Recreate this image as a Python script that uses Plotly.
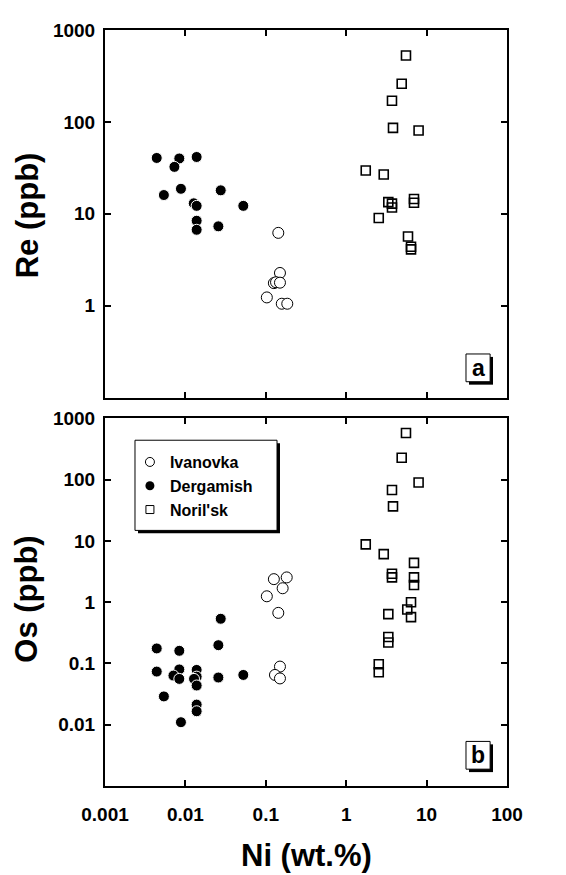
import plotly.graph_objects as go

# ---------------- data ----------------
# Panel a: Re (ppb) vs Ni (wt.%)
ivanovka_ni_a = [0.143, 0.150, 0.126, 0.134, 0.150, 0.103, 0.158, 0.185]
ivanovka_re = [6.2, 2.27, 1.76, 1.8, 1.78, 1.23, 1.05, 1.05]

dergamish_ni_a = [0.0044, 0.0084, 0.0073, 0.0138, 0.0054, 0.0088, 0.0275,
                  0.0127, 0.0138, 0.0525, 0.0138, 0.0138, 0.0257]
dergamish_re = [40.5, 40.0, 32.4, 41.5, 16.0, 18.7, 18.0,
                13.0, 12.2, 12.2, 8.4, 6.7, 7.3]

norilsk_ni_a = [5.54, 4.9, 3.71, 3.82, 7.95, 1.75, 2.93, 3.34, 3.71, 3.71,
                6.97, 6.97, 2.54, 5.87, 6.4, 6.4]
norilsk_re = [528, 260, 170, 86, 80.6, 29.6, 26.8, 13.4, 12.9, 11.7,
              14.5, 13.2, 9.0, 5.65, 4.37, 4.1]

# Panel b: Os (ppb) vs Ni (wt.%)
ivanovka_ni_b = [0.126, 0.182, 0.162, 0.103, 0.143, 0.150, 0.130, 0.150]
ivanovka_os = [2.38, 2.54, 1.69, 1.25, 0.67, 0.089, 0.065, 0.057]

dergamish_ni_b = [0.0044, 0.0044, 0.0084, 0.0084, 0.0071, 0.0084, 0.0054, 0.0088,
                  0.0138, 0.0138, 0.0128, 0.0138, 0.0138, 0.0138, 0.0275, 0.0257,
                  0.0257, 0.0525]
dergamish_os = [0.176, 0.0737, 0.161, 0.080, 0.0635, 0.056, 0.029, 0.011,
                0.0785, 0.061, 0.056, 0.0437, 0.0213, 0.0166, 0.537, 0.199,
                0.059, 0.065]

norilsk_ni_b = [5.54, 4.9, 7.95, 3.71, 3.82, 1.75, 2.93, 6.97, 3.71, 3.71,
                6.97, 6.97, 6.4, 5.75, 6.4, 3.34, 3.34, 3.34, 2.54, 2.54]
norilsk_os = [578, 228, 89.8, 68, 36.7, 8.8, 6.1, 4.39, 2.91, 2.54,
              2.54, 1.91, 1.0, 0.76, 0.57, 0.64, 0.27, 0.22, 0.097, 0.072]

x_tickvals = [0.001, 0.01, 0.1, 1, 10, 100]
x_ticktext = ["0.001", "0.01", "0.1", "1", "10", "100"]
re_tickvals = [0.1, 1, 10, 100, 1000]
re_ticktext = ["", "1", "10", "100", "1000"]
os_tickvals = [0.001, 0.01, 0.1, 1, 10, 100, 1000]
os_ticktext = ["", "0.01", "0.1", "1", "10", "100", "1000"]

series_names = ["Ivanovka", "Dergamish", "Noril'sk"]

# ---------------- styles ----------------
FONT = "Liberation Sans, Arial, Helvetica, sans-serif"
circ_open = dict(symbol="circle", size=11, color="white", line=dict(color="black", width=1))
circ_fill = dict(symbol="circle", size=11, color="black", line=dict(color="white", width=1))
sq_open = dict(symbol="square-open", size=9, color="black", line=dict(color="black", width=1.6))

fig = go.Figure()

# panel a
fig.add_trace(go.Scatter(x=dergamish_ni_a, y=dergamish_re, mode="markers", marker=circ_fill,
                         xaxis="x", yaxis="y", showlegend=False))
fig.add_trace(go.Scatter(x=ivanovka_ni_a, y=ivanovka_re, mode="markers", marker=circ_open,
                         xaxis="x", yaxis="y", showlegend=False))
fig.add_trace(go.Scatter(x=norilsk_ni_a, y=norilsk_re, mode="markers", marker=sq_open,
                         xaxis="x", yaxis="y", showlegend=False))
# panel b
fig.add_trace(go.Scatter(x=dergamish_ni_b, y=dergamish_os, mode="markers", marker=circ_fill,
                         xaxis="x2", yaxis="y2", showlegend=False))
fig.add_trace(go.Scatter(x=ivanovka_ni_b, y=ivanovka_os, mode="markers", marker=circ_open,
                         xaxis="x2", yaxis="y2", showlegend=False))
fig.add_trace(go.Scatter(x=norilsk_ni_b, y=norilsk_os, mode="markers", marker=sq_open,
                         xaxis="x2", yaxis="y2", showlegend=False))

# legend-only entries
leg_markers = [dict(symbol="circle-open", size=9, color="black", line=dict(width=1)),
               dict(symbol="circle", size=9, color="black"),
               dict(symbol="square-open", size=8, color="black", line=dict(width=1))]
for name, mk in zip(series_names, leg_markers):
    fig.add_trace(go.Scatter(x=[None], y=[None], mode="markers", marker=mk, name=name,
                             xaxis="x2", yaxis="y2", showlegend=True))

axis_common = dict(type="log", showgrid=False, zeroline=False, showline=True, linewidth=2,
                   linecolor="black", mirror="allticks", ticks="inside", ticklen=6,
                   tickwidth=1.5, tickcolor="black",
                   tickfont=dict(family=FONT, size=19, color="black", weight="bold"))

# the page body adds an 8px offset, so margins are reduced by 8px on top/left
fig.update_layout(
    width=566, height=875,
    margin=dict(l=97, r=67, t=15, b=97),
    paper_bgcolor="white", plot_bgcolor="white",
    xaxis=dict(axis_common, range=[-3, 2], domain=[0, 1], anchor="y",
               tickvals=x_tickvals, showticklabels=False),
    yaxis=dict(axis_common, range=[-1, 3], domain=[0.5138, 1], anchor="x",
               tickvals=re_tickvals, ticktext=re_ticktext, ticklabelstandoff=4),
    xaxis2=dict(axis_common, range=[-3, 2], domain=[0, 1], anchor="y2",
                tickvals=x_tickvals, ticktext=x_ticktext, ticklabelstandoff=10),
    yaxis2=dict(axis_common, range=[-3, 3], domain=[0, 0.4862], anchor="x2",
                tickvals=os_tickvals, ticktext=os_ticktext, ticklabelstandoff=4),
    showlegend=True,
    legend=dict(x=0.062, y=0.451, xanchor="left", yanchor="top", bgcolor="rgba(0,0,0,0)",
                borderwidth=0,
                font=dict(family=FONT, size=16, color="black", weight="bold")),
)

shapes = []
# legend box with shadow (x2/y2 domain)
shapes.append(dict(type="rect", xref="x2 domain", yref="y2 domain", x0=0.0821, x1=0.4353,
                   y0=0.6873, y1=0.9326, fillcolor="black", line=dict(width=0), layer="above"))
shapes.append(dict(type="rect", xref="x2 domain", yref="y2 domain", x0=0.0746, x1=0.4279,
                   y0=0.6954, y1=0.9407, fillcolor="white", line=dict(color="black", width=1),
                   layer="above"))
# panel label boxes
for xr, yr, y0, y1 in [("x domain", "y domain", 0.0431, 0.1186),
                       ("x2 domain", "y2 domain", 0.0458, 0.1213)]:
    shapes.append(dict(type="rect", xref=xr, yref=yr, x0=0.9055, x1=0.9652,
                       y0=y0 - 0.008, y1=y1 - 0.008, fillcolor="black", line=dict(width=0),
                       layer="above"))
    shapes.append(dict(type="rect", xref=xr, yref=yr, x0=0.898, x1=0.958,
                       y0=y0, y1=y1, fillcolor="white", line=dict(color="black", width=1),
                       layer="above"))
fig.update_layout(shapes=shapes)

lab_font = dict(family=FONT, size=23, color="black", weight="bold")
title_font = dict(family=FONT, size=31, color="black", weight="bold")
fig.add_annotation(text="a", xref="x domain", yref="y domain", x=0.928, y=0.081,
                   xanchor="center", yanchor="middle", showarrow=False, font=lab_font)
fig.add_annotation(text="b", xref="x2 domain", yref="y2 domain", x=0.928, y=0.0835,
                   xanchor="center", yanchor="middle", showarrow=False, font=lab_font)
fig.add_annotation(text="Re (ppb)", xref="paper", yref="paper", x=(27 - 105) / 402,
                   y=(786 - 210) / 763, textangle=-90, showarrow=False, font=title_font,
                   xanchor="center", yanchor="middle")
fig.add_annotation(text="Os (ppb)", xref="paper", yref="paper", x=(27 - 105) / 402,
                   y=(786 - 598) / 763, textangle=-90, showarrow=False, font=title_font,
                   xanchor="center", yanchor="middle")
fig.add_annotation(text="Ni (wt.%)", xref="paper", yref="paper", x=0.5,
                   y=(786 - 856) / 763, showarrow=False, font=title_font,
                   xanchor="center", yanchor="middle")

fig.write_html("out.html")
